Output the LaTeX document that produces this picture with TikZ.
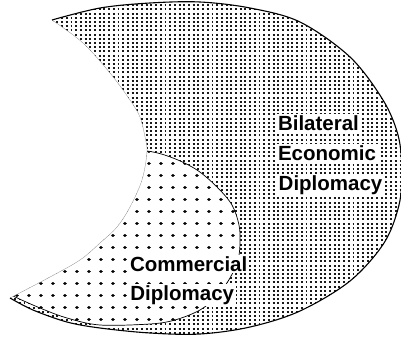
\documentclass[tikz,border=0pt]{standalone}
\usepackage{fontspec}
\setmainfont{Liberation Sans}

\newcommand\crescentP{plot[smooth,tension=0.55] coordinates {(52,20) (100,8) (150,3) (200,2) (250,8) (300,22) (350,57) (383,100) (398,135) (402,170) (399,205) (384,243) (350,281) (300,311) (250,327) (200,334) (150,333) (100,328) (67,322) (33,310) (10,298)} -- plot[smooth,tension=0.55] coordinates {(10,298) (50,277) (80,260) (100,243) (117,227) (130,207) (142,180) (147,152) (145,137) (140,117) (130,100) (110,73) (83,43) (52,20)} -- cycle}
\newcommand\commercialP{plot[smooth,tension=0.55] coordinates {(100,148) (147,151) (173,158) (197,170) (217,187) (232,205) (239,225) (240,243) (238,260) (230,278) (217,296) (200,310) (175,320) (150,324) (100,325) (67,318) (40,308) (13,296) (-5,287)} -- (-30,150) -- cycle}

\tikzset{
  lbl/.style={font=\bfseries\fontsize{20.5}{24}\selectfont, text=black,
    fill=white, inner xsep=2pt, inner ysep=1.5pt, anchor=base west},
  outerline/.style={draw=black, line width=1.1pt},
  innerline/.style={draw=black!45, line width=0.3pt},
  commline/.style={draw=black, line width=0.7pt},
  finerow/.style={draw=black!90, line width=1.9pt, dash pattern=on 1.9pt off 2.8pt},
  coarserow/.style={draw=black, line width=3.4pt, line cap=round, dash pattern=on 0.3pt off 11.7pt}
}

\begin{document}
\begin{tikzpicture}[x=1pt,y=-1pt]
\useasboundingbox (0,0) rectangle (401,337);
% bilateral (fine dots)
\begin{scope}
  \clip \crescentP;
  \foreach \yy in {1,5.2,...,340} {
    \path[finerow] (0,\yy) -- (405,\yy);
  }
\end{scope}
% commercial (coarse dots)
\begin{scope}
  \clip \crescentP;
  \fill[white] \commercialP;
  \clip \commercialP;
  \foreach \yy in {139.3,151.3,...,340} {
    \path[coarserow] (4.8,\yy) -- (260,\yy);
  }
\end{scope}
\begin{scope}
  \clip \crescentP;
  \path[commline] \commercialP;
\end{scope}
% inner (concave) boundary
\path[innerline] plot[smooth,tension=0.55] coordinates {(10,298) (50,277) (80,260) (100,243) (117,227) (130,207) (142,180) (147,152) (145,137) (140,117) (130,100) (110,73) (83,43) (52,20)};
% outer boundary
\path[outerline] plot[smooth,tension=0.55] coordinates {(52,20) (100,8) (150,3) (200,2) (250,8) (300,22) (350,57) (383,100) (398,135) (402,170) (399,205) (384,243) (350,281) (300,311) (250,327) (200,334) (150,333) (100,328) (67,322) (33,310) (10,298)};
% labels
\node[lbl] (b1) at (275.8,130) {Bilateral};
\node[lbl] (b2) at (275.8,160.7) {Economic};
\node[lbl] (b3) at (276.5,190) {Diplomacy};
\node[lbl] (c1) at (127.8,271.7) {Commercial};
\node[lbl] (c2) at (128.2,300) {Diplomacy};
\end{tikzpicture}
\end{document}
